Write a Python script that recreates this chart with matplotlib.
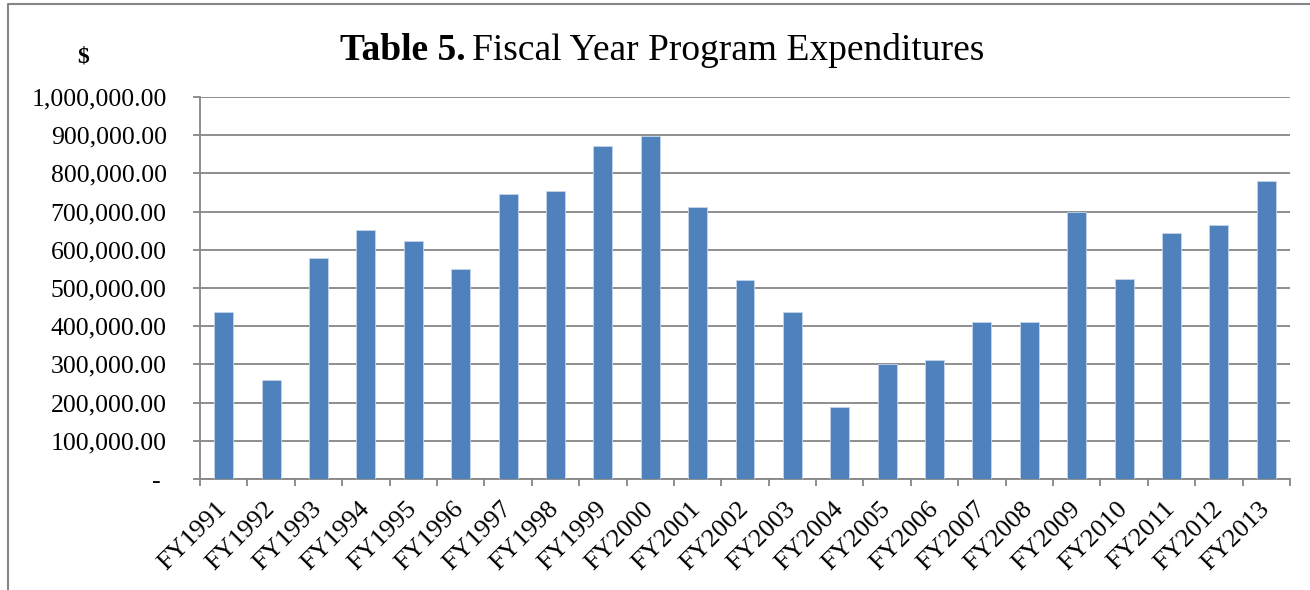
import matplotlib
matplotlib.use("Agg")
import matplotlib.pyplot as plt
from matplotlib.lines import Line2D
from matplotlib.ticker import FixedLocator, FuncFormatter

categories = ["FY1991", "FY1992", "FY1993", "FY1994", "FY1995", "FY1996", "FY1997",
              "FY1998", "FY1999", "FY2000", "FY2001", "FY2002", "FY2003", "FY2004",
              "FY2005", "FY2006", "FY2007", "FY2008", "FY2009", "FY2010", "FY2011",
              "FY2012", "FY2013"]
expenditures = [438000, 259000, 579000, 651000, 622000, 550000, 745000,
                755000, 872000, 899000, 711000, 520000, 437000, 188000,
                300000, 312000, 410000, 411000, 700000, 523000, 643000,
                664000, 780000]
y_ticks = [0, 100000, 200000, 300000, 400000, 500000, 600000, 700000, 800000, 900000, 1000000]

plt.rcParams['font.family'] = ['Liberation Serif', 'DejaVu Serif']

W, H = 1310, 590
fig = plt.figure(figsize=(W / 100, H / 100), dpi=100)
ax = fig.add_axes([200 / W, 1 - 479 / H, (1290 - 200) / W, (479 - 97) / H])

grid_c = '#868686'
x = list(range(len(categories)))
ax.bar(x, expenditures, width=0.4, color='#4F81BD', edgecolor='#C5D5EA', linewidth=0.6, zorder=3)

ax.set_xlim(-0.5, len(categories) - 0.5)
ax.set_ylim(0, 1000000)
ax.yaxis.set_major_locator(FixedLocator(y_ticks))
ax.yaxis.set_major_formatter(FuncFormatter(lambda v, p: '- ' if v == 0 else f'{v:,.2f}'))
ax.grid(axis='y', color=grid_c, linewidth=1.3, zorder=0)
ax.set_axisbelow(True)

ax.set_xticks(x)
ax.set_xticklabels(categories, rotation=45, ha='right', va='center', rotation_mode='anchor', fontsize=19)
ax.set_xticks([i - 0.5 for i in range(len(categories) + 1)], minor=True)
ax.tick_params(axis='x', which='major', length=0, pad=19)
ax.tick_params(axis='x', which='minor', length=5, width=1.3, color=grid_c, direction='out')
ax.tick_params(axis='y', length=5, width=1.3, color=grid_c, labelsize=18.5, pad=19)

for s in ['top', 'right']:
    ax.spines[s].set_visible(False)
for s in ['left', 'bottom']:
    ax.spines[s].set_color(grid_c)
    ax.spines[s].set_linewidth(1.3)

# Title
fig.text(340 / W, 1 - 60 / H, 'Table 5.', fontsize=27, fontweight='bold', ha='left', va='baseline')
fig.text(472 / W, 1 - 60 / H, 'Fiscal Year Program Expenditures', fontsize=27, ha='left', va='baseline')
fig.text(83 / W, 1 - 57 / H, '$', fontsize=17, fontweight='bold', ha='center', va='center')

# outer chart border (left and top visible)
fig.add_artist(Line2D([8 / W, 8 / W, 1.0], [0.0, 1 - 4 / H, 1 - 4 / H], transform=fig.transFigure,
                      color='#868686', linewidth=1.5))

fig.savefig('out.png', dpi=100)
